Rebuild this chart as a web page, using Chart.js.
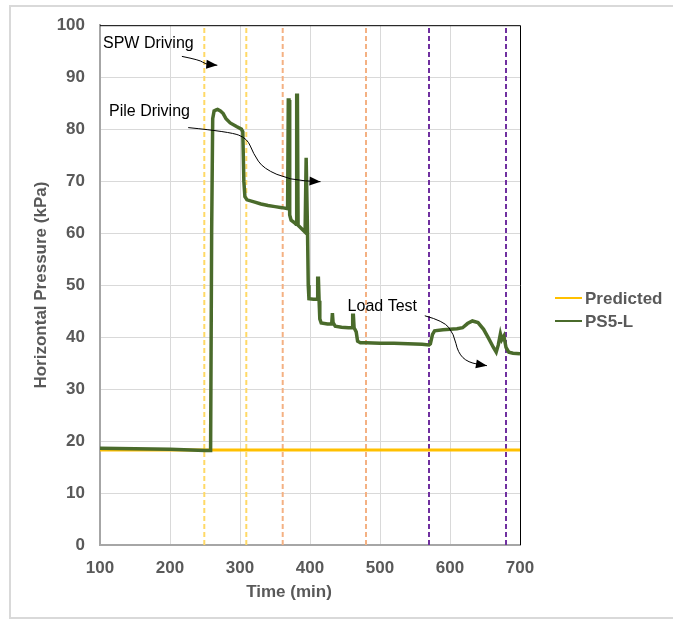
<!DOCTYPE html>
<html>
<head>
<meta charset="utf-8">
<script src="https://cdn.jsdelivr.net/npm/chart.js@4.4.1/dist/chart.umd.min.js"></script>
<style>
html,body{margin:0;padding:0;background:#fff;}
#wrap{position:relative;width:673px;height:619px;}
</style>
</head>
<body>
<div id="wrap"><canvas id="myChart" width="673" height="619"></canvas></div>
<script>
// data
var psTime = [100,150,200,250,258,259.5,261,263,266,268,272,276,280,286,295,302,304,305.5,307,310,320,330,340,350,360,368,
  369,370,371,373,378,380,381,382,383,387,393,394.5,395.5,396.5,397.5,398.5,405,410,411,412,413,414,416,425,431,432,433,436,
  445,455,460,461,462,463,466,468,472,480,500,520,540,560,570,572,575,578,590,600,610,618,625,632,640,648,655,662,666,669,672,
  674,677,680,684,690,700];
var psValue = [18.6,18.5,18.4,18.2,18.2,60,82,83.5,83.7,83.8,83.5,83,82,81.2,80.5,80,79.5,70,67,66.4,66,65.6,65.3,65.1,64.9,64.7,
  85.6,85.6,63.5,62.5,62,61.7,86.5,86.5,61.5,61,60.2,74.5,74.5,60,50,47.4,47.3,47.3,51.3,51.3,47,43.5,42.7,42.5,42.5,44.6,42.8,42.1,
  41.9,41.8,41.8,44.2,44.2,41.8,41,39.2,38.9,38.9,38.8,38.8,38.7,38.6,38.5,38.7,40.5,41.2,41.4,41.5,41.6,41.8,42.6,43.1,42.8,41.5,39.8,38,37.1,38.5,40.6,
  39.5,40.2,38,37.1,36.9,36.8];
var predTime = [100,250,400,550,700];
var predValue = [18.3,18.3,18.3,18.3,18.3];

var eventTimes = [249,309,361,480,570,680];
var eventKind = ['spw','spw','pile','pile','load','load'];

var xTicks = [100,200,300,400,500,600,700];
var yTicks = [0,10,20,30,40,50,60,70,80,90,100];

// annotations (data units)
var noteText = ['SPW Driving','Pile Driving','Load Test'];
var noteX = [104.3,112.9,453.7];
var noteY = [96.4,83.3,45.8];
var arrowSPW = [[217,94],[243,93.3],[250,92.5],[267.6,92.3]];
var arrowPile = [[226,80.3],[286,79.5],[310.5,78.2],[319,75.3],[333.4,72.4],[372,70.2],[415,69.9]];
var arrowLoad = [[564,44.1],[591,43.1],[605.5,40.6],[611.3,37],[625.6,35.1],[652.8,34.5]];

var kindColor = {spw:'#ffd966', pile:'#f4b183', load:'#7030a0'};

function pts(xs, ys){
  var out = [];
  for(let i=0;i<xs.length;i++){ out.push({x:xs[i], y:ys[i]}); }
  return out;
}

var datasets = [{
  label:'Predicted', data:pts(predTime,predValue), borderColor:'#ffc000', backgroundColor:'#ffc000',
  borderWidth:3, pointRadius:0, order:2, legendShow:true
},{
  label:'PS5-L', data:pts(psTime,psValue), borderColor:'#4a6b2b', backgroundColor:'#4a6b2b',
  borderWidth:3.5, pointRadius:0, order:1, legendShow:true
}];
for(let i=0;i<eventTimes.length;i++){
  datasets.push({
    label:'ev'+i, data:[{x:eventTimes[i],y:0},{x:eventTimes[i],y:100}],
    borderColor:kindColor[eventKind[i]], borderWidth:2, borderDash:[5,3], pointRadius:0, order:3, legendShow:false
  });
}

function smoothPath(ctx, p){
  ctx.beginPath();
  ctx.moveTo(p[0][0],p[0][1]);
  for(let i=1;i<p.length-1;i++){
    var mx=(p[i][0]+p[i+1][0])/2, my=(p[i][1]+p[i+1][1])/2;
    ctx.quadraticCurveTo(p[i][0],p[i][1],mx,my);
  }
  var n=p.length-1;
  ctx.lineTo(p[n][0],p[n][1]);
  ctx.stroke();
  // arrow head
  var a=Math.atan2(p[n][1]-p[n-1][1],p[n][0]-p[n-1][0]);
  ctx.beginPath();
  ctx.moveTo(p[n][0],p[n][1]);
  ctx.lineTo(p[n][0]-11*Math.cos(a)+4.5*Math.sin(a),p[n][1]-11*Math.sin(a)-4.5*Math.cos(a));
  ctx.lineTo(p[n][0]-11*Math.cos(a)-4.5*Math.sin(a),p[n][1]-11*Math.sin(a)+4.5*Math.cos(a));
  ctx.closePath();
  ctx.fill();
}

var decor = {
  id:'decor',
  beforeDraw: function(chart){
    var c=chart.ctx;
    c.save();
    c.fillStyle='#fff';
    c.fillRect(0,0,chart.width,chart.height);
    c.strokeStyle='#d9d9d9'; c.lineWidth=2;
    c.beginPath();
    c.moveTo(673,6); c.lineTo(10,6); c.lineTo(10,618); c.lineTo(673,618);
    c.stroke();
    c.restore();
  },
  afterDraw: function(chart){
    var c=chart.ctx, a=chart.chartArea, xs=chart.scales.x, ys=chart.scales.y;
    c.save();
    // plot border top/right
    c.strokeStyle='#000'; c.lineWidth=1;
    c.beginPath();
    c.moveTo(a.left,a.top+0.5); c.lineTo(a.right+0.5,a.top+0.5); c.lineTo(a.right+0.5,a.bottom);
    c.stroke();
    // annotations
    c.font='16px "Liberation Sans", Arial, sans-serif';
    c.fillStyle='#000'; c.textBaseline='middle'; c.textAlign='left';
    for(let i=0;i<noteText.length;i++){
      c.fillText(noteText[i], xs.getPixelForValue(noteX[i]), ys.getPixelForValue(noteY[i]));
    }
    c.strokeStyle='#000'; c.lineWidth=1;
    [arrowSPW,arrowPile,arrowLoad].forEach(function(ar){
      smoothPath(c, ar.map(function(q){ return [xs.getPixelForValue(q[0]), ys.getPixelForValue(q[1])]; }));
    });
    // legend
    var items = chart.data.datasets.filter(function(d){ return d.legendShow; });
    c.font='bold 17px "Liberation Sans", Arial, sans-serif';
    c.fillStyle='#595959';
    items.forEach(function(d,i){
      var y=298+i*23;
      c.strokeStyle=d.borderColor; c.lineWidth=2;
      c.beginPath(); c.moveTo(555,y); c.lineTo(582,y); c.stroke();
      c.fillText(d.label,585,y+1);
    });
    // x title
    c.textAlign='center';
    c.fillText('Time (min)',289,592);
    c.restore();
  }
};

var chart1 = new Chart(document.getElementById('myChart'), {
  type:'line',
  data:{ datasets:datasets },
  options:{
    responsive:false,
    animation:false,
    layout:{ padding:{ left:0, right:153, top:23, bottom:0 } },
    plugins:{ legend:{display:false}, tooltip:{enabled:false} },
    scales:{
      x:{
        type:'linear', min:100, max:700,
        afterFit:function(s){ s.height=74; },
        afterBuildTicks:function(s){ s.ticks = xTicks.map(function(v){ return {value:v}; }); },
        grid:{ color:'#d9d9d9', lineWidth:1, drawTicks:false },
        border:{ color:'#a6a6a6', width:2 },
        ticks:{ padding:13, color:'#595959', font:{ family:'"Liberation Sans", Arial, sans-serif', size:17, weight:'bold' } }
      },
      y:{
        min:0, max:100,
        afterFit:function(s){ s.width=100; },
        afterBuildTicks:function(s){ s.ticks = yTicks.map(function(v){ return {value:v}; }); },
        grid:{ color:'#d9d9d9', lineWidth:1, drawTicks:false },
        border:{ color:'#a6a6a6', width:2 },
        ticks:{ padding:15, color:'#595959', font:{ family:'"Liberation Sans", Arial, sans-serif', size:17, weight:'bold' } },
        title:{ display:true, text:'Horizontal Pressure (kPa)', color:'#595959', padding:{top:31,bottom:0},
          font:{ family:'"Liberation Sans", Arial, sans-serif', size:17, weight:'bold' } }
      }
    }
  },
  plugins:[decor]
});
</script>
</body>
</html>
